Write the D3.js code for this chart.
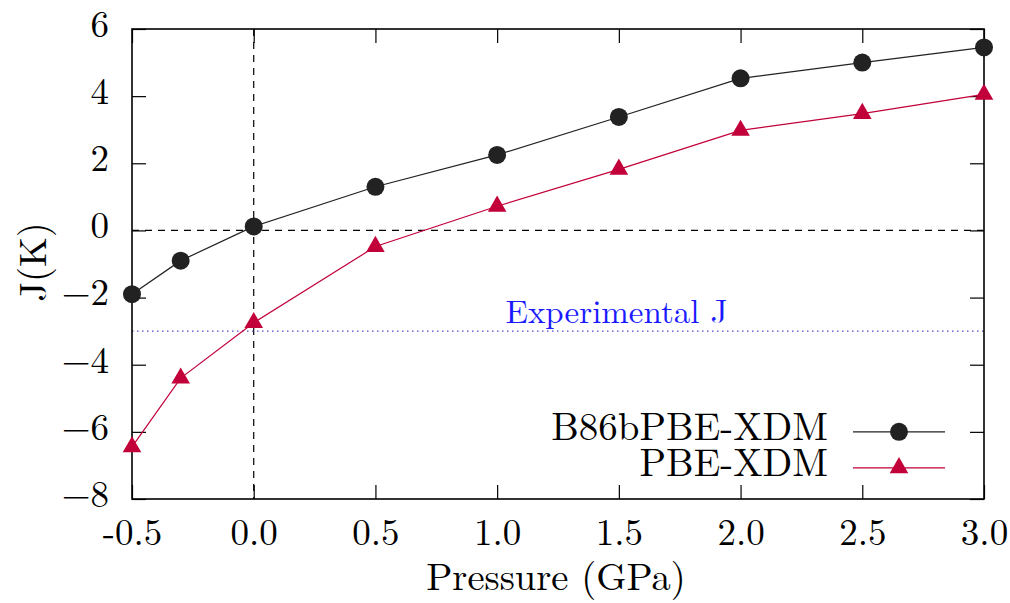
<!DOCTYPE html>
<html>
<head>
<meta charset="utf-8">
<script src="https://cdn.jsdelivr.net/npm/d3@7"></script>
<style>
  body { margin: 0; background: #fff; }
</style>
</head>
<body>
<div id="chart"></div>
<script>
// data
var pressure = [-0.5, -0.3, 0.0, 0.5, 1.0, 1.5, 2.0, 2.5, 3.0];
var jB86b = [-1.9, -0.9, 0.12, 1.3, 2.25, 3.38, 4.53, 5.0, 5.45];
var jPBE = [-6.45, -4.4, -2.75, -0.48, 0.72, 1.82, 2.98, 3.48, 4.05];
var expJ = -3.0;
var xTicks = [-0.5, 0.0, 0.5, 1.0, 1.5, 2.0, 2.5, 3.0];
var yTicks = [-8, -6, -4, -2, 0, 2, 4, 6];
var seriesNames = ["B86bPBE-XDM", "PBE-XDM"];

var W = 1010, H = 603;
var margin = {top: 29, right: 26, bottom: 104, left: 132};
var width = W - margin.left - margin.right,
    height = H - margin.top - margin.bottom;
var serif = "'Latin Modern Roman', 'Liberation Serif', serif";

var x = d3.scaleLinear().domain([-0.5, 3.0]).range([0, width]);
var y = d3.scaleLinear().domain([-8, 6]).range([height, 0]);

var svg = d3.select("#chart").append("svg")
    .attr("width", W).attr("height", H)
  .append("g")
    .attr("transform", "translate(" + margin.left + "," + margin.top + ")");

// zero lines
svg.append("line")
    .attr("x1", 0).attr("x2", width)
    .attr("y1", y(0)).attr("y2", y(0))
    .attr("stroke", "#000").attr("stroke-width", 1.2)
    .attr("stroke-dasharray", "7,6");
svg.append("line")
    .attr("x1", x(0)).attr("x2", x(0))
    .attr("y1", 0).attr("y2", height)
    .attr("stroke", "#000").attr("stroke-width", 1.2)
    .attr("stroke-dasharray", "7,6");

// experimental value
svg.append("line")
    .attr("x1", 0).attr("x2", width)
    .attr("y1", y(expJ)).attr("y2", y(expJ))
    .attr("stroke", "#4a4ad0").attr("stroke-width", 1.2)
    .attr("stroke-dasharray", "1.5,3.5");
svg.append("text")
    .attr("x", x(1.49)).attr("y", y(expJ) - 8)
    .attr("text-anchor", "middle")
    .attr("fill", "#1a1aff")
    .style("font-size", "33px")
    .text("Experimental J");

// axes with inward ticks, mirrored
var fmtY = function(d) { return d < 0 ? "\u2212" + Math.abs(d) : d; };
var xAxis = d3.axisBottom(x).tickValues(xTicks).tickSizeInner(-14).tickSizeOuter(0)
    .tickFormat(function(d) { return d3.format(".1f")(d).replace("\u2212", "-"); });
var yAxis = d3.axisLeft(y).tickValues(yTicks).tickSizeInner(-14).tickSizeOuter(0)
    .tickPadding(23).tickFormat(fmtY);

var gx = svg.append("g").attr("transform", "translate(0," + height + ")").call(xAxis);
var gy = svg.append("g").call(yAxis);
svg.append("g").call(d3.axisTop(x).tickValues(xTicks).tickSizeInner(-14).tickSizeOuter(0).tickFormat(""));
svg.append("g").attr("transform", "translate(" + width + ",0)")
    .call(d3.axisRight(y).tickValues(yTicks).tickSizeInner(-14).tickSizeOuter(0).tickFormat(""));

svg.selectAll(".domain").remove();
svg.selectAll(".tick line").attr("stroke", "#000").attr("stroke-width", 1.2);
gx.selectAll("text").style("font-size", "37px").attr("fill", "#000")
    .attr("y", 46).attr("dy", 0);
gy.selectAll("text").style("font-size", "37px").attr("fill", "#000").attr("dy", "0.2em");

// frame
svg.append("rect")
    .attr("width", width).attr("height", height)
    .attr("fill", "none").attr("stroke", "#000").attr("stroke-width", 1.6);

// axis titles
svg.append("text")
    .attr("x", width / 2 - 2).attr("y", height + 91)
    .attr("text-anchor", "middle")
    .style("font-size", "38.5px")
    .text("Pressure (GPa)");
svg.append("text")
    .attr("transform", "translate(" + (46 - margin.left) + "," + (height / 2 - 2) + ") rotate(-90)")
    .attr("text-anchor", "middle")
    .style("font-size", "38.5px")
    .text("J(K)");

// series
var lineB = d3.line().x(function(d, i) { return x(pressure[i]); }).y(function(d) { return y(d); });
var colB = "#222222", colP = "#c2003a";

svg.append("path").datum(jB86b)
    .attr("d", lineB).attr("fill", "none")
    .attr("stroke", colB).attr("stroke-width", 1.2);
svg.append("path").datum(jPBE)
    .attr("d", lineB).attr("fill", "none")
    .attr("stroke", colP).attr("stroke-width", 1.2);

var tri = d3.symbol().type(d3.symbolTriangle).size(150);

svg.selectAll(".ptB").data(jB86b).enter().append("circle")
    .attr("cx", function(d, i) { return x(pressure[i]); })
    .attr("cy", function(d) { return y(d); })
    .attr("r", 9).attr("fill", colB);
svg.selectAll(".ptP").data(jPBE).enter().append("path")
    .attr("d", tri)
    .attr("transform", function(d, i) { return "translate(" + x(pressure[i]) + "," + y(d) + ")"; })
    .attr("fill", colP);

// legend
var legend = svg.append("g").attr("transform", "translate(" + (width - 131) + "," + (y(-6)) + ")");
seriesNames.forEach(function(name, i) {
    var row = legend.append("g").attr("transform", "translate(0," + (i * 36) + ")");
    row.append("text")
        .attr("x", -25).attr("y", 0).attr("dy", "0.2em")
        .attr("text-anchor", "end")
        .style("font-size", "39px")
        .text(name);
    row.append("line")
        .attr("x1", 0).attr("x2", 92)
        .attr("stroke", i === 0 ? colB : colP).attr("stroke-width", 1.2);
    if (i === 0) {
        row.append("circle").attr("cx", 46).attr("r", 9).attr("fill", colB);
    } else {
        row.append("path").attr("d", tri).attr("transform", "translate(46,0)").attr("fill", colP);
    }
});

// every text in the serif face
d3.selectAll("text").style("font-family", serif);
</script>
</body>
</html>
